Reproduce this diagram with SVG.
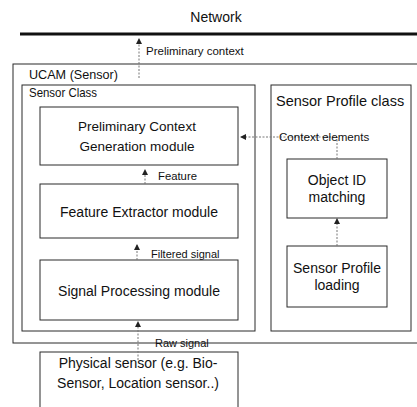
<svg xmlns="http://www.w3.org/2000/svg" width="417" height="407" viewBox="0 0 417 407">
<style>
text{font-family:"Liberation Sans",Arial,sans-serif;fill:#111}
.box{fill:none;stroke:#2a2a2a;stroke-width:1}
.conn{fill:none;stroke:#777;stroke-width:1;stroke-dasharray:2,1.5}
.c{text-anchor:middle}
</style>
<defs>
<marker id="ah" viewBox="0 0 6 8" refX="5" refY="4" markerWidth="6" markerHeight="8" orient="auto" markerUnits="userSpaceOnUse">
<path d="M0,1 L6,4 L0,7 Z" fill="#222"/>
</marker>
</defs>
<rect width="417" height="407" fill="#fff"/>
<g id="network">
<text x="216" y="22" class="c" font-size="14">Network</text>
<line x1="20" y1="34" x2="417" y2="34" stroke="#111" stroke-width="3"/>
</g>
<g id="ucam">
<rect class="box" x="13" y="64" width="410" height="279"/>
<text x="29" y="79" font-size="13" textLength="89" lengthAdjust="spacingAndGlyphs">UCAM (Sensor)</text>
</g>
<g id="sensor-class">
<rect class="box" x="22" y="85" width="233" height="246"/>
<text x="29" y="97" font-size="13" textLength="68" lengthAdjust="spacingAndGlyphs">Sensor Class</text>
</g>
<g id="sensor-profile-class">
<rect class="box" x="271" y="85" width="140" height="246"/>
<text x="276" y="106" font-size="14.5">Sensor Profile class</text>
</g>
<g id="pcg">
<rect class="box" x="40" y="107" width="198" height="58"/>
<text x="137" y="131" class="c" font-size="13.5">Preliminary Context</text>
<text x="137" y="151" class="c" font-size="13.5">Generation module</text>
</g>
<g id="fe">
<rect class="box" x="40" y="184" width="198" height="54"/>
<text x="139" y="217" class="c" font-size="14">Feature Extractor module</text>
</g>
<g id="sp">
<rect class="box" x="40" y="260" width="198" height="60"/>
<text x="139" y="296" class="c" font-size="14">Signal Processing module</text>
</g>
<g id="phys">
<rect class="box" x="40" y="352" width="198" height="60"/>
<text x="138" y="368" class="c" font-size="14">Physical sensor (e.g. Bio-</text>
<text x="138" y="388" class="c" font-size="14">Sensor, Location sensor..)</text>
</g>
<g id="oid">
<rect class="box" x="287" y="159" width="100" height="59"/>
<text x="337" y="185" class="c" font-size="14">Object ID</text>
<text x="337" y="202" class="c" font-size="14">matching</text>
</g>
<g id="spl">
<rect class="box" x="287" y="246" width="100" height="61"/>
<text x="337" y="273" class="c" font-size="14">Sensor Profile</text>
<text x="337" y="290" class="c" font-size="14">loading</text>
</g>
<g id="connectors">
<line class="conn" x1="139" y1="78" x2="139" y2="39" marker-end="url(#ah)"/>
<text x="146" y="55" font-size="11.5">Preliminary context</text>
<line class="conn" x1="145" y1="184" x2="145" y2="170" marker-end="url(#ah)"/>
<text x="158" y="180" font-size="11.3">Feature</text>
<line class="conn" x1="137" y1="260" x2="137" y2="245" marker-end="url(#ah)"/>
<text x="151" y="258" font-size="11">Filtered signal</text>
<line class="conn" x1="138" y1="360" x2="138" y2="322" marker-end="url(#ah)"/>
<text x="155" y="347" font-size="11">Raw signal</text>
<line class="conn" x1="337" y1="246" x2="337" y2="219" marker-end="url(#ah)"/>
<polyline class="conn" points="337,159 337,137 241,137" marker-end="url(#ah)"/>
<text x="279" y="141" font-size="11.6">Context elements</text>
</g>
</svg>
